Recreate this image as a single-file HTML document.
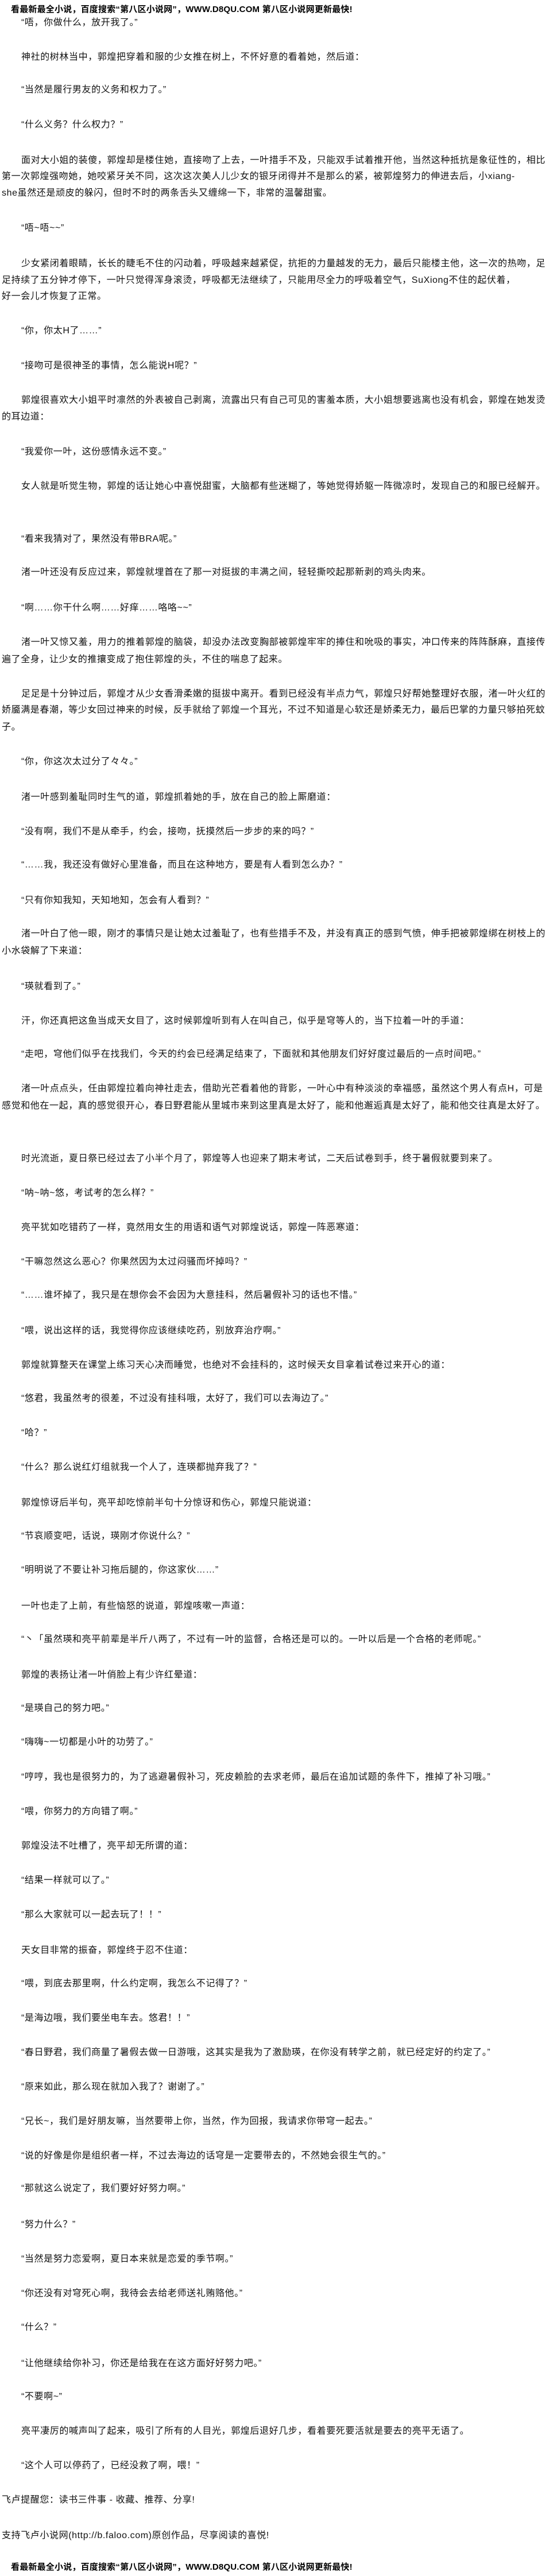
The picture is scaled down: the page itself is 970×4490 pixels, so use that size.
<!DOCTYPE html>
<html><head><meta charset="utf-8">
<style>
html,body{margin:0;padding:0;background:#fff;}
body{width:970px;height:4490px;position:relative;overflow:hidden;font-family:"Liberation Sans","Noto Sans CJK SC",sans-serif;color:#111;}
.l{position:absolute;left:3px;height:28px;line-height:28px;font-size:16px;letter-spacing:0.6px;white-space:nowrap;}
.i{left:37px;}
.h{position:absolute;left:19px;height:24px;line-height:24px;font-size:15px;font-weight:bold;white-space:nowrap;color:#000;letter-spacing:0.2px;}
</style></head><body>
<div class="h" style="top:5px">看最新最全小说，百度搜索“第八区小说网”，WWW.D8QU.COM 第八区小说网更新最快!</div>
<div class="l i" style="top:26px">“唔，你做什么，放开我了。”</div>
<div class="l i" style="top:86px">神社的树林当中，郭煌把穿着和服的少女推在树上，不怀好意的看着她，然后道：</div>
<div class="l i" style="top:143px">“当然是履行男友的义务和权力了。”</div>
<div class="l i" style="top:204px">“什么义务？什么权力？”</div>
<div class="l i" style="top:266px">面对大小姐的装傻，郭煌却是楼住她，直接吻了上去，一叶措手不及，只能双手试着推开他，当然这种抵抗是象征性的，相比</div>
<div class="l" style="top:294px">第一次郭煌强吻她，她咬紧牙关不同，这次这次美人儿少女的银牙闭得并不是那么的紧，被郭煌努力的伸进去后，小xiang-</div>
<div class="l" style="top:323px">she虽然还是顽皮的躲闪，但时不时的两条舌头又缠绵一下，非常的温馨甜蜜。</div>
<div class="l i" style="top:384px">“唔~唔~~”</div>
<div class="l i" style="top:446px">少女紧闭着眼睛，长长的睫毛不住的闪动着，呼吸越来越紧促，抗拒的力量越发的无力，最后只能楼主他，这一次的热吻，足</div>
<div class="l" style="top:475px">足持续了五分钟才停下，一叶只觉得浑身滚烫，呼吸都无法继续了，只能用尽全力的呼吸着空气，SuXiong不住的起伏着，</div>
<div class="l" style="top:503px">好一会儿才恢复了正常。</div>
<div class="l i" style="top:563px">“你，你太H了……”</div>
<div class="l i" style="top:624px">“接吻可是很神圣的事情，怎么能说H呢？”</div>
<div class="l i" style="top:684px">郭煌很喜欢大小姐平时凛然的外表被自己剥离，流露出只有自己可见的害羞本质，大小姐想要逃离也没有机会，郭煌在她发烫</div>
<div class="l" style="top:713px">的耳边道：</div>
<div class="l i" style="top:774px">“我爱你一叶，这份感情永远不变。”</div>
<div class="l i" style="top:834px">女人就是听觉生物，郭煌的话让她心中喜悦甜蜜，大脑都有些迷糊了，等她觉得娇躯一阵微凉时，发现自己的和服已经解开。</div>
<div class="l i" style="top:926px">“看来我猜对了，果然没有带BRA呢。”</div>
<div class="l i" style="top:984px">渚一叶还没有反应过来，郭煌就埋首在了那一对挺拔的丰满之间，轻轻撕咬起那新剥的鸡头肉来。</div>
<div class="l i" style="top:1046px">“啊……你干什么啊……好痒……咯咯~~”</div>
<div class="l i" style="top:1106px">渚一叶又惊又羞，用力的推着郭煌的脑袋，却没办法改变胸部被郭煌牢牢的捧住和吮吸的事实，冲口传来的阵阵酥麻，直接传</div>
<div class="l" style="top:1136px">遍了全身，让少女的推攘变成了抱住郭煌的头，不住的喘息了起来。</div>
<div class="l i" style="top:1196px">足足是十分钟过后，郭煌才从少女香滑柔嫩的挺拔中离开。看到已经没有半点力气，郭煌只好帮她整理好衣服，渚一叶火红的</div>
<div class="l" style="top:1224px">娇靥满是春潮，等少女回过神来的时候，反手就给了郭煌一个耳光，不过不知道是心软还是娇柔无力，最后巴掌的力量只够拍死蚊</div>
<div class="l" style="top:1254px">子。</div>
<div class="l i" style="top:1314px">“你，你这次太过分了々々。”</div>
<div class="l i" style="top:1376px">渚一叶感到羞耻同时生气的道，郭煌抓着她的手，放在自己的脸上厮磨道：</div>
<div class="l i" style="top:1436px">“没有啊，我们不是从牵手，约会，接吻，抚摸然后一步步的来的吗？”</div>
<div class="l i" style="top:1494px">“……我，我还没有做好心里准备，而且在这种地方，要是有人看到怎么办？”</div>
<div class="l i" style="top:1556px">“只有你知我知，天知地知，怎会有人看到？”</div>
<div class="l i" style="top:1614px">渚一叶白了他一眼，刚才的事情只是让她太过羞耻了，也有些措手不及，并没有真正的感到气愤，伸手把被郭煌绑在树枝上的</div>
<div class="l" style="top:1644px">小水袋解了下来道：</div>
<div class="l i" style="top:1706px">“瑛就看到了。”</div>
<div class="l i" style="top:1766px">汗，你还真把这鱼当成天女目了，这时候郭煌听到有人在叫自己，似乎是穹等人的，当下拉着一叶的手道：</div>
<div class="l i" style="top:1824px">“走吧，穹他们似乎在找我们，今天的约会已经满足结束了，下面就和其他朋友们好好度过最后的一点时间吧。”</div>
<div class="l i" style="top:1884px">渚一叶点点头，任由郭煌拉着向神社走去，借助光芒看着他的背影，一叶心中有种淡淡的幸福感，虽然这个男人有点H，可是</div>
<div class="l" style="top:1914px">感觉和他在一起，真的感觉很开心，春日野君能从里城市来到这里真是太好了，能和他邂逅真是太好了，能和他交往真是太好了。</div>
<div class="l i" style="top:2006px">时光流逝，夏日祭已经过去了小半个月了，郭煌等人也迎来了期末考试，二天后试卷到手，终于暑假就要到来了。</div>
<div class="l i" style="top:2066px">“呐~呐~悠，考试考的怎么样？”</div>
<div class="l i" style="top:2126px">亮平犹如吃错药了一样，竟然用女生的用语和语气对郭煌说话，郭煌一阵恶寒道：</div>
<div class="l i" style="top:2186px">“干嘛忽然这么恶心？你果然因为太过闷骚而坏掉吗？”</div>
<div class="l i" style="top:2244px">“……谁坏掉了，我只是在想你会不会因为大意挂科，然后暑假补习的话也不惜。”</div>
<div class="l i" style="top:2306px">“喂，说出这样的话，我觉得你应该继续吃药，别放弃治疗啊。”</div>
<div class="l i" style="top:2366px">郭煌就算整天在课堂上练习天心决而睡觉，也绝对不会挂科的，这时候天女目拿着试卷过来开心的道：</div>
<div class="l i" style="top:2424px">“悠君，我虽然考的很差，不过没有挂科哦，太好了，我们可以去海边了。”</div>
<div class="l i" style="top:2484px">“哈？”</div>
<div class="l i" style="top:2544px">“什么？那么说红灯组就我一个人了，连瑛都抛弃我了？”</div>
<div class="l i" style="top:2606px">郭煌惊讶后半句，亮平却吃惊前半句十分惊讶和伤心，郭煌只能说道：</div>
<div class="l i" style="top:2664px">“节哀顺变吧，话说，瑛刚才你说什么？”</div>
<div class="l i" style="top:2723px">“明明说了不要让补习拖后腿的，你这家伙……”</div>
<div class="l i" style="top:2786px">一叶也走了上前，有些恼怒的说道，郭煌咳嗽一声道：</div>
<div class="l i" style="top:2844px">“丶「虽然瑛和亮平前辈是半斤八两了，不过有一叶的监督，合格还是可以的。一叶以后是一个合格的老师呢。”</div>
<div class="l i" style="top:2906px">郭煌的表扬让渚一叶俏脸上有少许红晕道：</div>
<div class="l i" style="top:2964px">“是瑛自己的努力吧。”</div>
<div class="l i" style="top:3023px">“嗨嗨~一切都是小叶的功劳了。”</div>
<div class="l i" style="top:3084px">“哼哼，我也是很努力的，为了逃避暑假补习，死皮赖脸的去求老师，最后在追加试题的条件下，推掉了补习哦。”</div>
<div class="l i" style="top:3144px">“喂，你努力的方向错了啊。”</div>
<div class="l i" style="top:3204px">郭煌没法不吐槽了，亮平却无所谓的道：</div>
<div class="l i" style="top:3264px">“结果一样就可以了。”</div>
<div class="l i" style="top:3324px">“那么大家就可以一起去玩了！！”</div>
<div class="l i" style="top:3386px">天女目非常的振奋，郭煌终于忍不住道：</div>
<div class="l i" style="top:3444px">“喂，到底去那里啊，什么约定啊，我怎么不记得了？”</div>
<div class="l i" style="top:3504px">“是海边哦，我们要坐电车去。悠君！！”</div>
<div class="l i" style="top:3564px">“春日野君，我们商量了暑假去做一日游哦，这其实是我为了激励瑛，在你没有转学之前，就已经定好的约定了。”</div>
<div class="l i" style="top:3624px">“原来如此，那么现在就加入我了？谢谢了。”</div>
<div class="l i" style="top:3684px">“兄长~，我们是好朋友嘛，当然要带上你，当然，作为回报，我请求你带穹一起去。”</div>
<div class="l i" style="top:3744px">“说的好像是你是组织者一样，不过去海边的话穹是一定要带去的，不然她会很生气的。”</div>
<div class="l i" style="top:3801px">“那就这么说定了，我们要好好努力啊。”</div>
<div class="l i" style="top:3864px">“努力什么？”</div>
<div class="l i" style="top:3924px">“当然是努力恋爱啊，夏日本来就是恋爱的季节啊。”</div>
<div class="l i" style="top:3984px">“你还没有对穹死心啊，我待会去给老师送礼贿赂他。”</div>
<div class="l i" style="top:4043px">“什么？”</div>
<div class="l i" style="top:4106px">“让他继续给你补习，你还是给我在在这方面好好努力吧。”</div>
<div class="l i" style="top:4164px">“不要啊~”</div>
<div class="l i" style="top:4224px">亮平凄厉的喊声叫了起来，吸引了所有的人目光，郭煌后退好几步，看着要死要活就是要去的亮平无语了。</div>
<div class="l i" style="top:4284px">“这个人可以停药了，已经没救了啊，喂！”</div>
<div class="l" style="top:4344px">飞卢提醒您：读书三件事 - 收藏、推荐、分享!</div>
<div class="l" style="top:4406px">支持飞卢小说网(http://b.faloo.com)原创作品，尽享阅读的喜悦!</div>
<div class="h" style="top:4463px">看最新最全小说，百度搜索“第八区小说网”，WWW.D8QU.COM 第八区小说网更新最快!</div>
</body></html>
